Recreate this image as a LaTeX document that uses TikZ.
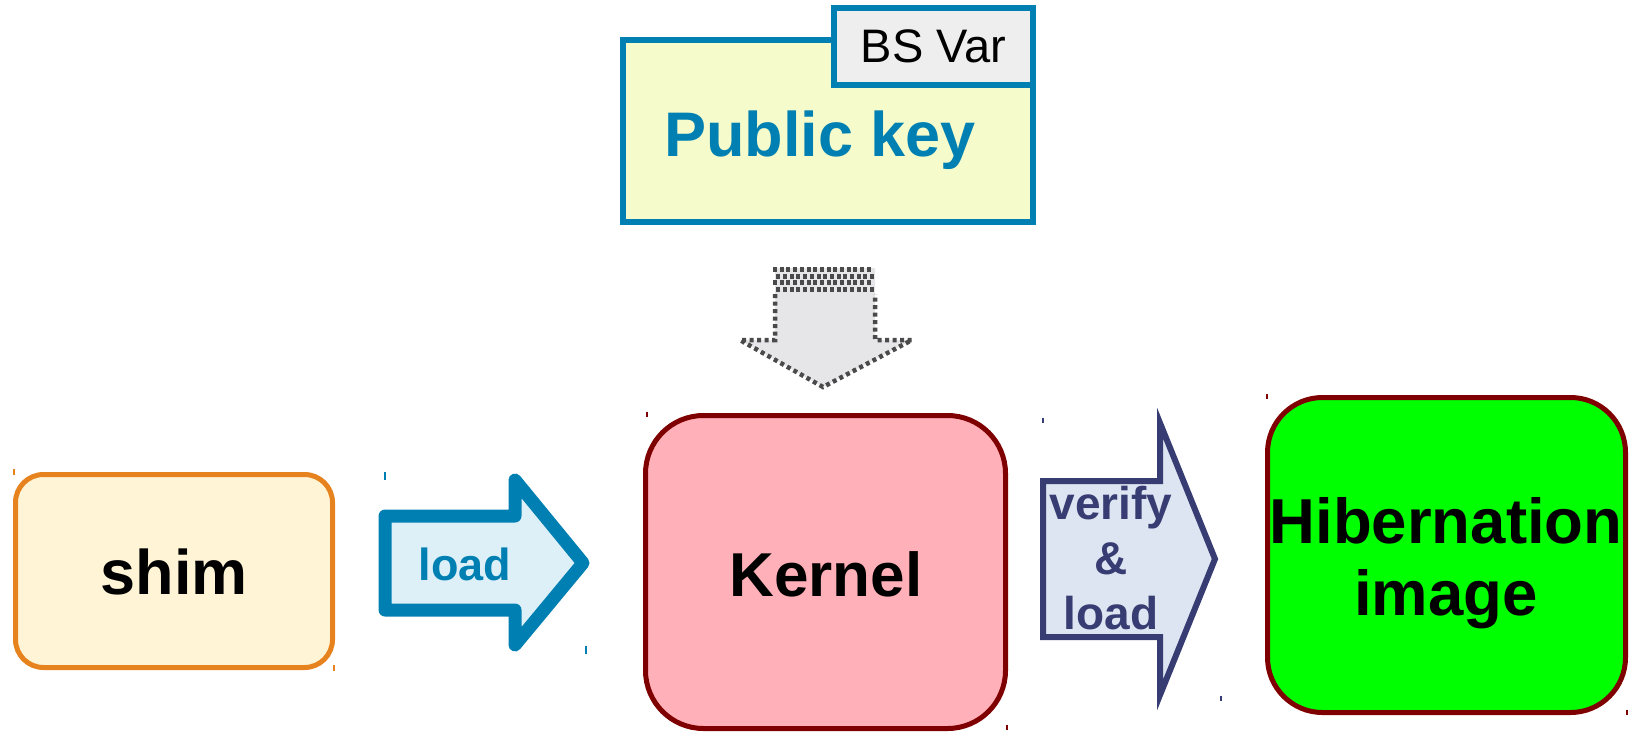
\documentclass[tikz,border=0pt]{standalone}
\usepackage{fontspec}
\setmainfont{Liberation Sans}
\definecolor{shimfill}{HTML}{FFF5D6}
\definecolor{shimline}{HTML}{E6831F}
\definecolor{bluel}{HTML}{0080B2}
\definecolor{loadfill}{HTML}{DDF0F8}
\definecolor{kernfill}{HTML}{FFB0B8}
\definecolor{darkred}{HTML}{7F0000}
\definecolor{navy}{HTML}{373D72}
\definecolor{verfill}{HTML}{DDE5F2}
\definecolor{hibfill}{HTML}{00FF00}
\definecolor{pkfill}{HTML}{F5FBCB}
\definecolor{tabfill}{HTML}{EEEEEE}
\definecolor{grayfill}{HTML}{E6E6E8}
\definecolor{dotline}{HTML}{4A4A4A}
\begin{document}
\begin{tikzpicture}[x=1pt,y=-1pt,
  rbox/.style={draw, line width=5pt, inner sep=0pt, align=center},
  bigtxt/.style={font=\fontsize{63}{72}\selectfont\bfseries, inner sep=0pt},
  arrtxt/.style={font=\fontsize{46}{55}\selectfont\bfseries, inner sep=0pt, align=center},
  tick/.style={line width=1.2pt},
]
\useasboundingbox (0,0) rectangle (1638,731);

% --- Public key variable with its tab
\node[draw=bluel, fill=pkfill, line width=6pt, minimum width=410pt, minimum height=182pt, inner sep=0pt] (pk) at (828,131) {};
\node[draw=bluel, fill=tabfill, line width=6pt, minimum width=199pt, minimum height=77pt, inner sep=0pt,
      font=\fontsize{47}{56}\selectfont] (tab) at (933.5,46.5) {BS Var};
\node[bigtxt, text=bluel] (pktxt) at (820,140.4) {Public key};

% --- dotted block arrow pointing down to the kernel
\path[fill=grayfill] (775,268) -- (875,268) -- (875,340) -- (912,340) -- (823,387) -- (740,340) -- (775,340) -- cycle;
\draw[dotline, line width=4.5pt, dash pattern=on 4pt off 3.5pt]
  (775,294) -- (775,340) -- (740,340) -- (823,387) -- (912,340) -- (875,340) -- (875,294);
\foreach \r in {0,1,2,3}{
  \pgfmathsetmacro{\yy}{267+6.5*\r}
  \pgfmathsetmacro{\off}{mod(\r,2)*3.3}
  \foreach \c in {0,...,14}{
    \fill[dotline] ({773+\off+6.7*\c},\yy) rectangle ++(4,5);
  }
}

% --- boxes
\node[rbox, rounded corners=28pt, draw=shimline, fill=shimfill,
      minimum width=317pt, minimum height=193pt] (shim) at (174,571) {};
\node[bigtxt] (shimtxt) at (174,571.5) {shim};

\node[rbox, rounded corners=58pt, draw=darkred, fill=kernfill,
      minimum width=360pt, minimum height=313pt] (kernel) at (825.5,572) {};
\node[bigtxt, font=\fontsize{62}{72}\selectfont\bfseries] (kerntxt) at (826,574) {Kernel};

\node[rbox, rounded corners=55pt, draw=darkred, fill=hibfill,
      minimum width=358pt, minimum height=315pt] (hib) at (1446.5,555) {};
\node[bigtxt, align=center, font=\fontsize{63.5}{72}\selectfont\bfseries] (hibtxt) at (1446,563) {Hibernation\\image};

% --- block arrows between the boxes
\draw[bluel, fill=loadfill, line width=13pt, line join=round]
  (385,516) -- (515,516) -- (515,480) -- (583,563) -- (515,645) -- (515,610) -- (385,610) -- cycle;
\node[arrtxt, text=bluel, font=\fontsize{45}{55}\selectfont\bfseries] (loadtxt) at (465,564) {load};

\draw[navy, fill=verfill, line width=6pt, line join=miter]
  (1043,481) -- (1160,481) -- (1160,423) -- (1215,559) -- (1160,695) -- (1160,637) -- (1043,637) -- cycle;
\node[arrtxt, text=navy] (vertxt) at (1111,558) {verify\\\&\\load};

% --- small selection marks at the shape corners
\draw[tick, shimline] (14,469) -- ++(0,6);
\draw[tick, shimline] (334,665) -- ++(0,6);
\draw[tick, bluel] (385,472) -- ++(0,8);
\draw[tick, bluel] (586,646) -- ++(0,8);
\draw[tick, darkred] (647,412) -- ++(0,5);
\draw[tick, darkred] (1007,725) -- ++(0,5);
\draw[tick, navy] (1043,418) -- ++(0,5);
\draw[tick, navy] (1221,696) -- ++(0,5);
\draw[tick, darkred] (1267,394) -- ++(0,5);
\draw[tick, darkred] (1627,710) -- ++(0,5);
\end{tikzpicture}
\end{document}
